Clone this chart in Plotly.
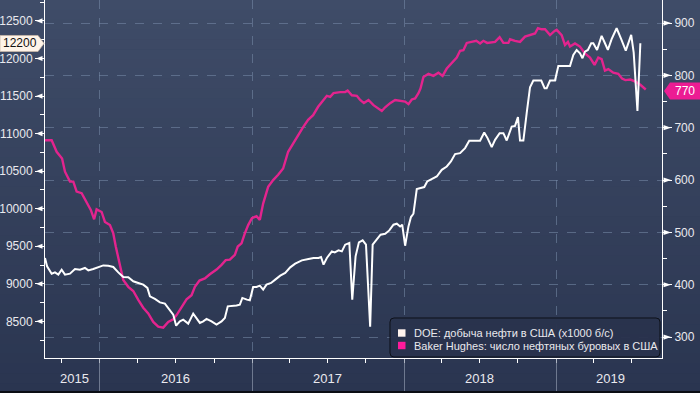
import plotly.graph_objects as go

# ---------------- data ----------------
doe_dates = [
    "2015-08-22", "2015-08-27", "2015-09-07", "2015-09-15", "2015-09-23", "2015-10-01", "2015-10-09",
    "2015-10-21", "2015-11-02", "2015-11-14", "2015-11-26", "2015-12-04", "2015-12-16", "2015-12-28",
    "2016-01-09", "2016-01-21", "2016-02-02", "2016-02-14", "2016-02-26", "2016-03-09", "2016-03-21",
    "2016-04-02", "2016-04-14", "2016-04-24", "2016-04-30", "2016-05-12", "2016-05-24", "2016-06-05",
    "2016-06-17", "2016-06-25", "2016-07-02", "2016-07-11", "2016-07-19", "2016-07-31", "2016-08-12",
    "2016-08-20", "2016-08-28", "2016-09-05", "2016-09-13", "2016-09-25", "2016-10-07", "2016-10-19",
    "2016-10-27", "2016-11-03", "2016-11-12", "2016-11-24", "2016-12-02", "2016-12-08", "2016-12-19",
    "2016-12-26", "2017-01-03", "2017-01-11", "2017-01-19", "2017-01-27", "2017-02-04", "2017-02-15",
    "2017-02-25", "2017-03-09", "2017-03-21", "2017-04-02", "2017-04-14", "2017-04-30", "2017-05-16",
    "2017-05-28", "2017-06-09", "2017-06-15", "2017-06-21", "2017-06-29", "2017-07-11", "2017-07-18",
    "2017-07-27", "2017-08-04", "2017-08-12", "2017-08-22", "2017-08-29", "2017-09-06", "2017-09-14",
    "2017-09-23", "2017-10-01", "2017-10-11", "2017-10-17", "2017-10-27", "2017-11-05", "2017-11-16",
    "2017-11-26", "2017-12-06", "2017-12-14", "2017-12-22", "2017-12-27", "2018-01-03", "2018-01-11",
    "2018-01-17", "2018-01-23", "2018-01-31", "2018-02-08", "2018-02-18", "2018-02-25", "2018-03-08",
    "2018-03-20", "2018-04-01", "2018-04-13", "2018-04-23", "2018-05-03", "2018-05-15", "2018-05-27",
    "2018-06-06", "2018-06-18", "2018-07-02", "2018-07-12", "2018-07-20", "2018-07-30", "2018-08-07",
    "2018-08-18", "2018-08-27", "2018-09-04", "2018-09-16", "2018-09-24", "2018-10-01", "2018-10-06",
    "2018-10-14", "2018-10-22", "2018-10-30", "2018-11-07", "2018-11-19", "2018-11-26", "2018-12-04",
    "2018-12-09", "2018-12-17", "2018-12-29", "2019-01-06", "2019-01-18", "2019-02-03", "2019-02-11",
    "2019-02-19", "2019-02-27", "2019-03-05", "2019-03-11", "2019-03-18", "2019-03-26", "2019-03-31",
    "2019-04-09", "2019-04-20", "2019-04-28", "2019-05-05", "2019-05-14", "2019-05-26", "2019-06-06",
    "2019-06-17", "2019-06-30", "2019-07-06", "2019-07-15", "2019-07-22",
]
doe_values = [
    9344, 9232, 9135, 9152, 9122, 9188, 9122,
    9135, 9197, 9188, 9211, 9179, 9197, 9224,
    9245, 9241, 9224, 9152, 9091, 9086, 9033,
    9011, 8989, 8945, 8833, 8798, 8753, 8736,
    8656, 8590, 8443, 8500, 8523, 8470, 8603,
    8546, 8479, 8500, 8532, 8500, 8457, 8500,
    8546, 8700, 8700, 8710, 8723, 8812, 8789,
    8780, 8958, 8958, 8975, 8922, 8989, 9011,
    9056, 9109, 9144, 9219, 9268, 9312, 9330,
    9344, 9344, 9357, 9255, 9344, 9432, 9419,
    9445, 9432, 9521, 9543, 8789, 9366, 9552,
    9578, 9521, 8430, 9521, 9596, 9654, 9667,
    9711, 9787, 9800, 9764, 9787, 9507, 9764,
    9889, 9933, 10262, 10275, 10288, 10363, 10395,
    10429, 10518, 10562, 10629, 10727, 10740, 10807,
    10904, 10904, 10904, 11014, 10940, 10820, 10917,
    11006, 11006, 10908, 11094, 11103, 11219, 10908,
    10908, 11272, 11618, 11706, 11706, 11706, 11605,
    11605, 11706, 11706, 11901, 11901, 11901, 12048,
    12114, 12070, 12004, 12092, 12114, 12203, 12203,
    12114, 12301, 12203, 12114, 12257, 12403, 12257,
    12105, 12314, 12079, 11303, 12203,
]

rig_dates = [
    "2015-08-22", "2015-09-07", "2015-09-19", "2015-10-02", "2015-10-09", "2015-10-21", "2015-10-29",
    "2015-11-06", "2015-11-18", "2015-11-30", "2015-12-10", "2015-12-18", "2015-12-24", "2016-01-05",
    "2016-01-13", "2016-01-25", "2016-02-02", "2016-02-08", "2016-02-18", "2016-02-26", "2016-03-09",
    "2016-03-21", "2016-04-02", "2016-04-14", "2016-04-26", "2016-05-08", "2016-05-20", "2016-06-01",
    "2016-06-13", "2016-06-25", "2016-07-03", "2016-07-15", "2016-07-27", "2016-08-08", "2016-08-16",
    "2016-08-27", "2016-09-09", "2016-09-21", "2016-10-07", "2016-10-19", "2016-10-29", "2016-11-08",
    "2016-11-20", "2016-11-27", "2016-12-06", "2016-12-14", "2016-12-22", "2016-12-31", "2017-01-11",
    "2017-01-19", "2017-01-27", "2017-02-08", "2017-02-20", "2017-03-04", "2017-03-16", "2017-03-28",
    "2017-04-09", "2017-04-21", "2017-05-03", "2017-05-15", "2017-05-27", "2017-06-08", "2017-06-20",
    "2017-06-29", "2017-07-07", "2017-07-15", "2017-07-31", "2017-08-12", "2017-08-18", "2017-08-28",
    "2017-09-09", "2017-09-17", "2017-09-26", "2017-10-07", "2017-10-19", "2017-10-31", "2017-11-08",
    "2017-11-16", "2017-11-28", "2017-12-10", "2017-12-22", "2018-01-03", "2018-01-11", "2018-01-19",
    "2018-01-27", "2018-02-04", "2018-02-09", "2018-02-16", "2018-02-28", "2018-03-12", "2018-03-24",
    "2018-04-03", "2018-04-13", "2018-04-25", "2018-05-07", "2018-05-15", "2018-05-23", "2018-05-31",
    "2018-06-12", "2018-06-23", "2018-07-02", "2018-07-10", "2018-07-19", "2018-07-30", "2018-08-07",
    "2018-08-18", "2018-08-27", "2018-09-08", "2018-09-12", "2018-09-24", "2018-10-06", "2018-10-18",
    "2018-11-02", "2018-11-11", "2018-11-18", "2018-11-27", "2018-12-05", "2018-12-17", "2018-12-28",
    "2019-01-02", "2019-01-14", "2019-01-22", "2019-01-29", "2019-02-03", "2019-02-15", "2019-02-27",
    "2019-03-11", "2019-03-23", "2019-04-03", "2019-04-12", "2019-04-20", "2019-04-28", "2019-05-06",
    "2019-05-18", "2019-05-30", "2019-06-08", "2019-06-16", "2019-06-28", "2019-07-10", "2019-07-22",
    "2019-08-04",
]
rig_values = [
    676, 676, 654, 641, 616, 597, 597,
    578, 575, 558, 543, 525, 544, 539,
    520, 514, 498, 473, 434, 409, 396,
    388, 371, 356, 345, 329, 320, 318,
    329, 334, 342, 358, 372, 380, 396,
    408, 412, 420, 429, 438, 447, 448,
    457, 473, 479, 498, 514, 527, 531,
    524, 555, 587, 600, 610, 622, 654,
    670, 686, 701, 715, 724, 740, 753,
    761, 759, 766, 768, 768, 771, 762,
    761, 753, 747, 753, 743, 737, 732,
    739, 747, 753, 751, 750, 745, 754,
    756, 766, 775, 797, 803, 799, 805,
    799, 813, 823, 834, 847, 848, 862,
    864, 866, 861, 866, 862, 864, 864,
    873, 862, 862, 869, 866, 864, 874,
    878, 880, 890, 888, 888, 877, 885,
    887, 877, 858, 864, 855, 861, 855,
    842, 834, 820, 834, 831, 809, 812,
    805, 803, 794, 791, 792, 788, 782,
    773,
]

doe_name = "DOE: добыча нефти в США (x1000 б/с)"
rig_name = "Baker Hughes: число нефтяных буровых в США"
year_labels = ["2015", "2016", "2017", "2018", "2019"]
year_label_pos = ["2015-10-31", "2016-07-01", "2017-07-01", "2018-07-01", "2019-05-12"]
year_starts = ["2016-01-01", "2017-01-01", "2018-01-01", "2019-01-01"]
left_ticks = [8500, 9000, 9500, 10000, 10500, 11000, 11500, 12000, 12500]
right_ticks = [300, 400, 500, 600, 700, 800, 900]
doe_last_label = 12200
rig_last_label = 770

# ---------------- style ----------------
FONT = "Liberation Sans, Arial, sans-serif"
W, H = 700, 393
ML, MR, MT, MB = 45, 38, 0, 35
PW, PH = W - ML - MR, H - MT - MB
LEFT_RANGE = [8012, 12779]
RIGHT_RANGE = [260, 944]
WHITE = "#ffffff"
PINK = "#e3248e"
TXT = "#e9e9ee"
GRID = "rgba(120,140,170,0.55)"


def px_x(px):
    return (px - ML) / PW


def px_y(py):
    return (H - MB - py) / PH


fig = go.Figure()

fig.add_trace(go.Scatter(x=rig_dates, y=rig_values, mode="lines", name=rig_name,
                         line=dict(color=PINK, width=2.4), yaxis="y", showlegend=False))
fig.add_trace(go.Scatter(x=doe_dates, y=doe_values, mode="lines", name=doe_name,
                         line=dict(color=WHITE, width=2), yaxis="y2", showlegend=False))

shapes = []
# gradient background
top = (63, 76, 104)
bot = (42, 53, 80)
N = 40
y_lo = px_y(H)
y_hi = px_y(0)
for i in range(N):
    t = (i + 0.5) / N
    c = tuple(int(round(top[k] + (bot[k] - top[k]) * t)) for k in range(3))
    y1 = y_hi - (y_hi - y_lo) * i / N
    y0 = y_hi - (y_hi - y_lo) * (i + 1) / N - 0.002
    shapes.append(dict(type="rect", xref="paper", yref="paper", layer="below",
                       x0=px_x(0), x1=px_x(W), y0=y0, y1=y1,
                       fillcolor="rgb(%d,%d,%d)" % c, line=dict(width=0)))
# bottom dark strip
shapes.append(dict(type="rect", xref="paper", yref="paper", layer="above",
                   x0=px_x(0), x1=px_x(W), y0=px_y(H), y1=px_y(H - 2),
                   fillcolor="#0a0d14", line=dict(width=0)))

# triangle tick markers
lpx = (LEFT_RANGE[1] - LEFT_RANGE[0]) / PH
for v in left_ticks:
    shapes.append(dict(type="path", xref="paper", yref="y2", layer="above",
                       path="M %f,%f L %f,%f L %f,%f Z" % (
                           px_x(36), v, px_x(42.5), v + 2.6 * lpx,
                           px_x(42.5), v - 2.6 * lpx),
                       fillcolor=WHITE, line=dict(width=0)))
rpx = (RIGHT_RANGE[1] - RIGHT_RANGE[0]) / PH
for v in right_ticks:
    shapes.append(dict(type="path", xref="paper", yref="y", layer="above",
                       path="M %f,%f L %f,%f L %f,%f Z" % (
                           px_x(671), v, px_x(663.5), v + 2.6 * rpx,
                           px_x(663.5), v - 2.6 * rpx),
                       fillcolor=WHITE, line=dict(width=0)))

# last value callouts
hh = 8 * lpx
shapes.append(dict(type="path", xref="paper", yref="y2", layer="above",
                   path="M %f,%f L %f,%f L %f,%f L %f,%f L %f,%f Z" % (
                       px_x(0), doe_last_label + hh,
                       px_x(38), doe_last_label + hh,
                       px_x(44), doe_last_label,
                       px_x(38), doe_last_label - hh,
                       px_x(0), doe_last_label - hh),
                   fillcolor="#fff4e8", line=dict(color="#c9b9a8", width=0.8)))
hh2 = 8.5 * rpx
shapes.append(dict(type="path", xref="paper", yref="y", layer="above",
                   path="M %f,%f L %f,%f L %f,%f L %f,%f L %f,%f Z" % (
                       px_x(700), rig_last_label + hh2,
                       px_x(670), rig_last_label + hh2,
                       px_x(664), rig_last_label,
                       px_x(670), rig_last_label - hh2,
                       px_x(700), rig_last_label - hh2),
                   fillcolor="#ec1c93", line=dict(width=0)))

# legend box (rounded) and swatches
lx0, lx1, ly0, ly1, r = 390, 660, 318, 357, 4
rx, ry = r / PW, r / PH
X0, X1, Y0, Y1 = px_x(lx0), px_x(lx1), px_y(ly1), px_y(ly0)
legend_path = (
    "M %f,%f L %f,%f Q %f,%f %f,%f L %f,%f Q %f,%f %f,%f L %f,%f Q %f,%f %f,%f L %f,%f Q %f,%f %f,%f Z" % (
        X0 + rx, Y1, X1 - rx, Y1, X1, Y1, X1, Y1 - ry,
        X1, Y0 + ry, X1, Y0, X1 - rx, Y0,
        X0 + rx, Y0, X0, Y0, X0, Y0 + ry,
        X0, Y1 - ry, X0, Y1, X0 + rx, Y1))
shapes.append(dict(type="path", xref="paper", yref="paper", layer="above", path=legend_path,
                   fillcolor="rgba(41,51,77,0.97)", line=dict(color="#0d1119", width=1)))
legend_items = [(doe_name, "#fff3ee", 333), (rig_name, "#ff1a9c", 345.5)]
annotations = []
for name, col, cy in legend_items:
    shapes.append(dict(type="rect", xref="paper", yref="paper", layer="above",
                       x0=px_x(398), x1=px_x(405.5), y0=px_y(cy + 3.7), y1=px_y(cy - 3.7),
                       fillcolor=col, line=dict(width=0)))
    annotations.append(dict(x=px_x(412), xref="paper", y=px_y(cy), yref="paper", text=name,
                            showarrow=False, xanchor="left", yanchor="middle",
                            font=dict(family=FONT, size=11, color=TXT)))

annotations.append(dict(x=px_x(20), xref="paper", y=doe_last_label, yref="y2",
                        text=str(doe_last_label), showarrow=False,
                        font=dict(family=FONT, size=12, color="#111111"), xanchor="center", yanchor="middle"))
annotations.append(dict(x=px_x(685), xref="paper", y=rig_last_label, yref="y",
                        text=str(rig_last_label), showarrow=False,
                        font=dict(family=FONT, size=12, color="#ffffff"), xanchor="center", yanchor="middle"))
for lab, pos in zip(year_labels, year_label_pos):
    annotations.append(dict(x=pos, xref="x", y=px_y(378), yref="paper", text=lab,
                            showarrow=False, font=dict(family=FONT, size=13, color=TXT),
                            xanchor="center", yanchor="middle"))

fig.update_layout(
    width=W, height=H,
    margin=dict(l=ML, r=MR, t=MT, b=MB, autoexpand=False),
    paper_bgcolor="rgb(42,53,80)",
    plot_bgcolor="rgba(0,0,0,0)",
    font=dict(family=FONT, color=TXT),
    shapes=shapes,
    annotations=annotations,
    showlegend=False,
    xaxis=dict(
        type="date", range=["2015-08-22", "2019-09-12"], automargin=False,
        tickvals=year_starts, ticktext=["" for _ in year_starts],
        ticks="outside", ticklen=35, tickwidth=1, tickcolor="rgba(140,150,170,0.7)",
        showgrid=True, gridcolor=GRID, griddash="dash", gridwidth=1,
        showline=True, linecolor=WHITE, linewidth=1,
        minor=dict(tickmode="linear", tick0="2016-01-01", dtick="M3", ticks="outside",
                   ticklen=4, tickcolor=WHITE, showgrid=False),
        zeroline=False, fixedrange=True,
    ),
    yaxis=dict(
        side="right", range=RIGHT_RANGE, tickvals=right_ticks,
        ticktext=[str(v) for v in right_ticks], automargin=False,
        ticks="outside", ticklen=9, tickcolor=WHITE, tickwidth=1,
        tickfont=dict(family=FONT, size=12, color=TXT),
        showgrid=True, gridcolor=GRID, griddash="dash", gridwidth=1,
        showline=True, linecolor=WHITE, linewidth=1, zeroline=False,
        minor=dict(dtick=50, ticks="outside", ticklen=4, tickcolor=WHITE, showgrid=False),
    ),
    yaxis2=dict(
        side="left", overlaying="y", range=LEFT_RANGE, tickvals=left_ticks,
        ticktext=[str(v) for v in left_ticks], automargin=False,
        ticks="outside", ticklen=9, tickcolor=WHITE, tickwidth=1,
        tickfont=dict(family=FONT, size=12, color=TXT),
        showgrid=False, showline=True, linecolor=WHITE, linewidth=1, zeroline=False,
        minor=dict(dtick=250, ticks="outside", ticklen=4, tickcolor=WHITE, showgrid=False),
    ),
)

fig.write_html(
    "out.html",
    config={"displayModeBar": False},
    post_script="document.body.style.margin='0px';document.body.style.overflow='hidden';",
)
